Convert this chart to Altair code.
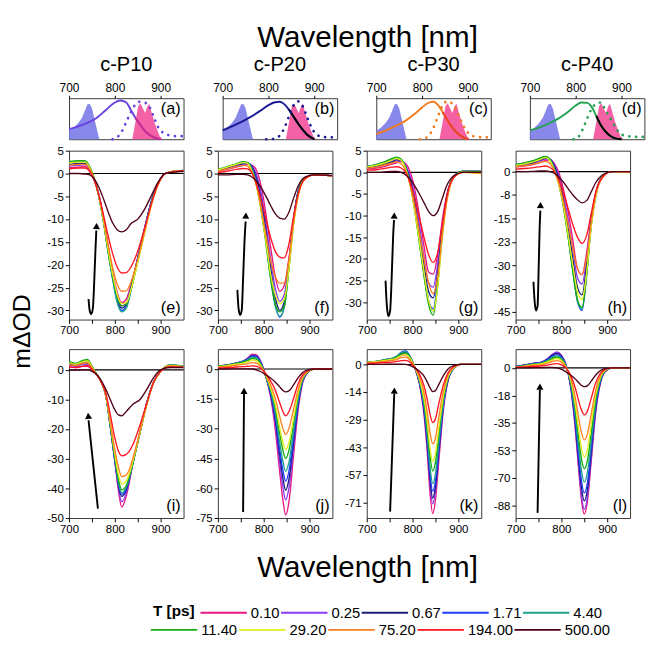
import altair as alt
import pandas as pd

FONT = "Liberation Sans"
W, H_TOP, H = 120, 43, 177

T_EARLY = ["0.10", "0.25", "0.67", "1.71", "4.40"]
T_LATE = ["11.40", "29.20", "75.20", "194.00", "500.00"]
T_ALL = T_EARLY + T_LATE
C_EARLY = ["#e8177f", "#8a3cf0", "#1b1b7a", "#1f3cff", "#1fa38c"]
C_LATE = ["#14aa14", "#e4ee1e", "#ff7f1f", "#ff1420", "#4d0016"]

BLUE_FILL_WL = [700, 710, 720, 728, 735, 740, 745, 750, 755, 760, 766]
BLUE_FILL = [0.22, 0.3, 0.42, 0.55, 0.75, 0.9, 0.92, 0.8, 0.55, 0.3, 0.0]
PINK_FILL_WL = [838, 845, 851, 856, 861, 866, 871, 875, 880, 886, 892, 898, 904]
PINK_FILL = [0.0, 0.45, 0.85, 0.93, 0.8, 0.68, 0.85, 0.92, 0.7, 0.45, 0.25, 0.08, 0.0]

ABS_WL = [700, 720, 740, 760, 780, 800, 812, 825, 835, 845, 855, 865, 875, 885, 900]
ABS_A = [0.26, 0.33, 0.42, 0.55, 0.75, 0.95, 1.0, 0.95, 0.75, 0.55, 0.38, 0.22, 0.12, 0.05, 0.0]
ABS_B = [0.23, 0.33, 0.44, 0.57, 0.72, 0.88, 0.95, 0.97, 0.9, 0.76, 0.58, 0.4, 0.24, 0.11, 0.0]
ABS_C = [0.14, 0.22, 0.33, 0.45, 0.62, 0.82, 0.93, 0.97, 0.88, 0.7, 0.5, 0.32, 0.18, 0.08, 0.0]
ABS_D = [0.23, 0.3, 0.4, 0.52, 0.68, 0.87, 0.95, 0.94, 0.83, 0.6, 0.36, 0.2, 0.09, 0.03, 0.0]

EMI_WL = [795, 805, 815, 825, 835, 845, 855, 865, 875, 885, 895, 905, 920, 935, 950]
EMI_A = [0.0, 0.05, 0.2, 0.45, 0.7, 0.9, 0.97, 0.95, 0.85, 0.58, 0.3, 0.17, 0.1, 0.08, 0.08]
EMI_B = [0.0, 0.0, 0.03, 0.1, 0.3, 0.6, 0.88, 0.98, 0.85, 0.55, 0.28, 0.12, 0.06, 0.05, 0.05]
EMI_C = [0.0, 0.02, 0.1, 0.3, 0.6, 0.88, 0.98, 0.93, 0.75, 0.48, 0.25, 0.12, 0.06, 0.05, 0.05]
EMI_D = [0.0, 0.05, 0.25, 0.54, 0.79, 0.92, 0.95, 0.75, 0.55, 0.35, 0.17, 0.1, 0.07, 0.06, 0.06]

TOP_TITLES = ["c-P10", "c-P20", "c-P30", "c-P40"]
TOP_COLORS = ["#6a3fe0", "#1a1a99", "#f27a1e", "#23a152"]
TAIL_COLORS = ["#d42a8c", "#000000", "#e8402a", "#000000"]

WL_E = [700, 720, 735, 745, 755, 765, 775, 785, 795, 805, 815, 825, 835, 850, 865, 880, 895, 910, 930, 950]
E = {
    "0.10": [1.2, 1.4, 1.5, 0.6, -1.5, -4.5, -9.5, -15.5, -21.5, -26, -28.3, -27.5, -24.5, -18.5, -12, -6, -2, 0, 0.5, 0.6],
    "0.25": [1.6, 1.8, 1.9, 0.9, -1.3, -4.5, -9.5, -16, -22, -27, -29, -28.5, -25, -18.5, -12, -6, -2, 0, 0.5, 0.6],
    "0.67": [2.0, 2.2, 2.2, 1.1, -1.2, -4.8, -10, -16.5, -22.5, -27.5, -29.5, -28.8, -25.2, -18.5, -12, -6, -2, 0, 0.5, 0.6],
    "1.71": [2.4, 2.6, 2.6, 1.3, -1.2, -5, -10.5, -17, -23, -28, -30, -29.2, -25.5, -18.5, -12, -6, -2, 0, 0.5, 0.7],
    "4.40": [2.5, 2.7, 2.7, 1.4, -1.2, -5, -10.5, -17, -23, -28.2, -30.3, -29.5, -25.8, -19, -12.3, -6.2, -2, 0, 0.5, 0.7],
    "11.40": [2.6, 2.8, 2.8, 1.5, -1.1, -5, -10.5, -17, -22.5, -27, -29, -28.7, -25.5, -19.3, -12.8, -6.5, -2.2, 0, 0.5, 0.7],
    "29.20": [2.3, 2.5, 2.5, 1.3, -1.2, -5, -10.3, -16.5, -22, -26.5, -28.5, -28.3, -25.5, -19.5, -13, -6.8, -2.3, 0, 0.5, 0.7],
    "75.20": [1.8, 2.0, 2.0, 1.0, -1.3, -4.8, -9.8, -15.5, -20.5, -24.2, -25.8, -25.7, -23.8, -18.8, -12.8, -6.8, -2.3, 0, 0.5, 0.6],
    "194.00": [1.0, 1.2, 1.2, 0.5, -1.5, -4.8, -9, -13.5, -17.5, -20.5, -21.8, -21.7, -20.5, -17, -12, -6.5, -2.2, 0, 0.4, 0.6],
    "500.00": [0, 0, -0.1, -0.3, -1.2, -3, -5.5, -8.3, -10.8, -12.3, -12.8, -12.3, -11, -10, -7.8, -4.8, -1.8, 0, 0.3, 0.5],
}

WL_F = [700, 720, 740, 755, 765, 775, 785, 795, 805, 815, 825, 835, 845, 855, 865, 875, 890, 910, 950]
F = {
    "0.10": [0.5, 0.9, 1.4, 1.8, 2.0, 1.8, 0.5, -3, -9, -16, -22.5, -25.8, -24.5, -18.5, -10, -4, -1, -0.3, -0.5],
    "0.25": [0.6, 1.0, 1.6, 2.0, 2.2, 1.6, -0.5, -4.5, -11, -18.5, -25, -28, -26.5, -19.5, -10.2, -4, -1, -0.3, -0.5],
    "0.67": [0.7, 1.2, 1.8, 2.2, 2.3, 1.3, -1.3, -6, -12.5, -20.5, -27, -30, -28, -20, -10.3, -4, -1, -0.3, -0.5],
    "1.71": [0.8, 1.3, 1.9, 2.3, 2.3, 1.0, -2, -7, -14, -22, -28.5, -31.5, -29, -20.3, -10.5, -4, -1, -0.3, -0.5],
    "4.40": [0.9, 1.4, 2.0, 2.4, 2.4, 0.8, -2.5, -8, -15, -23, -29, -31.3, -29.3, -20.5, -10.6, -4.1, -1, -0.3, -0.5],
    "11.40": [0.9, 1.5, 2.1, 2.6, 2.4, 0.5, -3, -8.5, -15.5, -23, -28.5, -30.3, -29, -21, -11, -4.5, -1, -0.3, -0.5],
    "29.20": [0.8, 1.4, 2.0, 2.4, 2.2, 0.3, -3, -8.5, -15, -22, -26.5, -28.5, -27.5, -21, -11.5, -5, -1.2, -0.3, -0.5],
    "75.20": [0.5, 1.0, 1.5, 1.8, 1.6, 0, -3, -8, -13.5, -19, -22.5, -24, -24, -19, -11, -5, -1.2, -0.3, -0.5],
    "194.00": [0.2, 0.5, 0.9, 1.1, 1.0, 0, -2.5, -6, -10, -14, -17, -18.3, -18.5, -15.5, -9.5, -4.5, -1.2, -0.3, -0.5],
    "500.00": [-0.3, -0.3, -0.2, -0.2, -0.3, -0.8, -1.8, -3.2, -5, -7, -8.8, -9.8, -10, -8.5, -5.5, -2.8, -0.8, -0.3, -0.4],
}

WL_G = [700, 720, 740, 755, 765, 775, 785, 795, 805, 815, 825, 835, 845, 855, 865, 875, 890, 910, 950]
G = {
    "0.10": [0.8, 1.0, 1.4, 1.9, 2.2, 2.5, 2.0, 0, -4, -10, -17, -23, -23.5, -19, -11, -5, -1, 0.2, 0.2],
    "0.25": [0.9, 1.2, 1.7, 2.2, 2.6, 2.6, 1.5, -1, -5.5, -12, -19.5, -25.5, -26.5, -21, -12, -5.5, -1, 0.2, 0.2],
    "0.67": [1.0, 1.4, 2.0, 2.5, 2.9, 2.7, 1.3, -1.8, -7, -14, -21.5, -27.5, -29, -23, -13, -5.5, -1, 0.2, 0.2],
    "1.71": [1.3, 1.7, 2.3, 2.9, 3.2, 2.9, 1.2, -2.5, -8, -15.5, -23, -29.5, -31.5, -25, -13.5, -6, -1, 0.2, 0.2],
    "4.40": [1.3, 1.8, 2.4, 3.0, 3.4, 3.0, 1.1, -2.8, -8.5, -16, -23.5, -30, -32, -25.5, -14, -6, -1, 0.2, 0.2],
    "11.40": [1.3, 1.8, 2.5, 3.2, 3.5, 3.0, 1.0, -3, -9, -16.5, -24, -30.5, -33, -26, -14, -6, -1, 0.2, 0.2],
    "29.20": [1.2, 1.6, 2.2, 2.8, 3.2, 2.8, 0.8, -3, -9, -16, -23, -29.5, -32, -26.5, -15, -6.5, -1.2, 0, -0.3],
    "75.20": [0.9, 1.2, 1.7, 2.1, 2.4, 2.0, 0.3, -3, -8, -14, -20, -25.5, -28, -24, -14.5, -6.5, -1.2, 0, -0.2],
    "194.00": [0.5, 0.6, 0.9, 1.2, 1.3, 1.0, 0, -2.5, -6, -10.5, -15, -19, -20.8, -18.5, -12, -5.5, -1.2, 0, 0],
    "500.00": [0, 0, 0.1, 0.2, 0.2, 0, -0.6, -1.6, -3.2, -5, -7, -9, -10, -9, -6, -3, -0.8, 0, 0],
}

WL_H = [700, 720, 740, 755, 765, 775, 785, 795, 805, 815, 825, 835, 845, 855, 865, 875, 890, 910, 950]
HH = {
    "0.10": [1.5, 1.8, 2.3, 3.0, 3.6, 3.8, 2.5, -0.5, -6, -13, -22, -31, -33, -26, -15, -7, -1.5, 0, 0],
    "0.25": [1.7, 2.1, 2.7, 3.4, 4.0, 3.9, 2.0, -1.5, -8, -15.5, -25, -34, -36, -28, -15.5, -7, -1.5, 0, 0],
    "0.67": [1.9, 2.4, 3.0, 3.8, 4.3, 4.0, 1.6, -2.5, -9.5, -18, -28, -37, -39.5, -30, -16, -7, -1.5, 0, 0],
    "1.71": [2.2, 2.7, 3.4, 4.2, 4.7, 4.0, 1.0, -3.5, -11, -20.5, -31.5, -41.5, -44.5, -33, -17, -7.5, -1.5, 0, 0],
    "4.40": [2.2, 2.8, 3.5, 4.3, 4.8, 4.0, 0.8, -4, -11.5, -21, -32, -41.5, -44, -33, -17, -7.5, -1.5, 0, 0],
    "11.40": [2.2, 2.8, 3.6, 4.5, 4.9, 3.8, 0.5, -4.5, -12, -21.5, -32, -41, -43.5, -33.5, -17.5, -8, -1.5, 0, 0],
    "29.20": [2.0, 2.5, 3.2, 4.0, 4.5, 3.5, 0.2, -4.5, -11.5, -20.5, -30, -38.5, -41, -32.5, -18, -8, -1.8, 0, -0.3],
    "75.20": [1.5, 1.9, 2.4, 3.0, 3.3, 2.6, 0, -4, -10, -17, -24.5, -31, -33, -27.5, -16.5, -7.5, -1.8, 0, -0.2],
    "194.00": [0.8, 1.0, 1.3, 1.6, 1.8, 1.3, 0, -2.8, -7, -12, -17, -21, -23, -20.5, -13.5, -6.5, -1.8, 0, 0],
    "500.00": [0, 0, 0.1, 0.2, 0.2, 0, -0.6, -1.8, -3.5, -5.5, -7.5, -9, -10, -9.3, -6.5, -3.5, -1, 0, 0],
}

WL_I = [700, 715, 730, 740, 750, 760, 770, 780, 790, 800, 808, 815, 825, 840, 855, 870, 885, 900, 920, 950]
I = {
    "0.10": [1.0, 0.8, 1.2, 1.2, 0.2, -1.5, -4, -8.5, -19, -31, -41, -46.3, -42.5, -31, -21, -11, -4, -0.5, 1.2, 1.0],
    "0.25": [1.5, 1.2, 1.8, 1.8, 0.5, -1.5, -4, -8.5, -19, -31, -40, -44.5, -41.5, -31, -21, -11, -4, -0.5, 1.3, 1.0],
    "0.67": [2.0, 1.6, 2.3, 2.3, 0.8, -1.5, -4, -8.5, -19, -30.5, -39, -42.7, -40.5, -31, -21, -11, -4, -0.5, 1.5, 1.1],
    "1.71": [2.5, 2.0, 2.8, 2.9, 1.0, -1.5, -4, -8.5, -19, -30.5, -38.5, -42, -40, -31, -21, -11, -4, -0.5, 1.7, 1.2],
    "4.40": [2.6, 2.1, 3.0, 3.1, 1.2, -1.3, -4, -8.5, -19, -30, -38, -41.5, -39.5, -31, -21, -11, -4, -0.5, 1.7, 1.2],
    "11.40": [2.8, 2.2, 3.2, 3.5, 1.3, -1.3, -4, -8.5, -18.5, -29.5, -37, -40.5, -39, -31, -21, -11.5, -4.2, -0.5, 1.6, 1.2],
    "29.20": [2.4, 1.9, 2.8, 3.0, 1.0, -1.5, -4, -8.5, -18, -28.5, -35.5, -38.5, -37.5, -30.5, -21, -11.5, -4.2, -0.5, 1.5, 1.1],
    "75.20": [1.8, 1.5, 2.2, 2.4, 0.7, -1.5, -4, -8.3, -17.5, -27, -33, -36, -35.5, -29.5, -20.5, -11.5, -4.2, -0.5, 1.3, 1.0],
    "194.00": [1.0, 0.8, 1.3, 1.4, 0.2, -1.7, -4, -7.8, -15, -23, -27.5, -29, -28.5, -25, -18.5, -11, -4, -0.5, 1.0, 0.9],
    "500.00": [0, -0.1, 0, 0, -0.5, -1.5, -3.5, -6.5, -10, -13.5, -15.2, -15.5, -14, -11.5, -10, -6.5, -2.5, 0, 0.8, 0.8],
}

WL_J = [700, 720, 740, 755, 765, 775, 785, 795, 805, 815, 825, 835, 842, 848, 855, 865, 875, 885, 895, 910, 950]
J = {
    "0.10": [1.5, 2.0, 3.0, 4.0, 5.5, 7.5, 7.0, 3.0, -4, -14, -30, -52, -66, -73.5, -67, -44, -21, -7, -2, 0, 0],
    "0.25": [1.5, 2.0, 3.0, 4.0, 5.3, 7.0, 6.5, 2.8, -4, -13, -27, -47, -59.5, -66, -60, -40, -19, -6.5, -2, 0, 0],
    "0.67": [1.5, 2.0, 3.0, 3.9, 5.0, 6.7, 6.2, 2.5, -4, -12.5, -25, -43.5, -55, -61, -55.5, -37, -18, -6, -2, 0, 0],
    "1.71": [1.6, 2.1, 3.0, 3.9, 5.0, 6.5, 6.0, 2.3, -4, -12, -23.5, -40.5, -51, -56.5, -51.5, -34.5, -17, -6, -2, 0, 0],
    "4.40": [1.5, 2.0, 2.9, 3.7, 4.6, 6.0, 5.5, 2.0, -4, -11, -21.5, -37, -46.5, -51.5, -47, -31.5, -15.5, -5.5, -1.8, 0, 0],
    "11.40": [1.4, 1.9, 2.7, 3.4, 4.2, 5.3, 4.8, 1.6, -3.8, -10, -19, -32.5, -41, -45, -41, -27.5, -13.5, -5, -1.6, 0, 0],
    "29.20": [1.2, 1.7, 2.4, 3.0, 3.6, 4.5, 4.0, 1.2, -3.5, -9.5, -17.5, -29.5, -37, -40.5, -37, -25, -12.5, -4.5, -1.5, 0, 0],
    "75.20": [1.0, 1.3, 1.9, 2.3, 2.7, 3.2, 2.8, 0.6, -3.2, -8, -14.5, -24, -30, -33, -30, -20.5, -10.5, -4, -1.3, 0, 0],
    "194.00": [0.5, 0.7, 1.0, 1.2, 1.4, 1.6, 1.3, 0, -2.5, -6, -10.5, -17, -21.5, -23.5, -21.5, -15, -7.5, -3, -1, 0, 0],
    "500.00": [0, 0, 0.1, 0.1, 0.1, 0, -0.5, -1.5, -3, -4.5, -6.5, -9, -10.8, -11.5, -11, -8, -4.5, -1.8, -0.6, 0, 0],
}

WL_K = [700, 720, 740, 755, 765, 775, 785, 795, 805, 815, 825, 832, 838, 844, 850, 858, 868, 878, 890, 905, 950]
K = {
    "0.10": [0.8, 1.2, 2.0, 2.5, 3.2, 4.5, 5.0, 3.0, -2, -10, -26, -45, -66, -77, -70, -48, -22, -8, -2, 0, 0],
    "0.25": [0.9, 1.3, 2.1, 2.6, 3.4, 5.0, 5.5, 3.3, -1.8, -9.5, -24, -42, -61.5, -72, -65.5, -45, -21, -7.5, -2, 0, 0],
    "0.67": [1.0, 1.4, 2.2, 2.8, 3.7, 5.6, 6.2, 3.5, -1.8, -9.5, -23.5, -40.5, -59, -69, -63, -43, -20, -7.5, -2, 0, 0],
    "1.71": [1.2, 1.6, 2.5, 3.1, 4.2, 6.3, 7.0, 4.0, -1.5, -9, -22.5, -38.5, -56, -65.5, -60, -41, -19.5, -7, -2, 0, 0],
    "4.40": [1.2, 1.6, 2.5, 3.1, 4.1, 6.0, 6.6, 3.8, -1.5, -8.5, -21, -36, -52.5, -61.5, -56.5, -38.5, -18.5, -6.8, -2, 0, 0],
    "11.40": [1.1, 1.5, 2.3, 2.9, 3.8, 5.5, 6.0, 3.5, -1.5, -8, -19, -32.5, -47, -55, -50.5, -34.5, -16.5, -6.3, -1.8, 0, 0],
    "29.20": [1.0, 1.4, 2.1, 2.6, 3.3, 4.6, 5.0, 3.0, -1.5, -7.5, -17.5, -29.5, -43, -50, -46, -31.5, -15.5, -6, -1.8, 0, 0],
    "75.20": [0.8, 1.1, 1.6, 2.0, 2.5, 3.5, 3.8, 2.2, -1.5, -6.5, -14.5, -24.5, -35, -41, -38, -26, -13, -5, -1.5, 0, 0],
    "194.00": [0.5, 0.7, 1.0, 1.2, 1.5, 2.0, 2.1, 1.0, -1.5, -5, -11, -18, -25.5, -30, -28, -19.5, -10, -4, -1.2, 0, 0],
    "500.00": [0, 0, 0.1, 0.2, 0.2, 0.2, 0, -0.6, -1.8, -3.5, -6, -9, -12, -14, -13.5, -10, -5.5, -2.2, -0.6, 0, 0],
}

WL_L = [700, 720, 740, 755, 770, 780, 790, 800, 810, 820, 830, 838, 844, 850, 857, 865, 875, 885, 895, 910, 950]
L = {
    "0.10": [1.0, 1.8, 3.0, 3.5, 6.0, 8.5, 10.0, 8.0, 2.0, -12, -38, -66, -85, -93.5, -85, -60, -28, -10, -2.5, 0, 0],
    "0.25": [1.0, 1.8, 3.0, 3.5, 6.0, 8.5, 10.0, 8.0, 2.0, -11.5, -36.5, -64, -82, -90.5, -82, -58, -27, -9.5, -2.5, 0, 0],
    "0.67": [1.0, 1.7, 2.9, 3.4, 5.7, 8.0, 9.3, 7.5, 1.8, -11, -34.5, -60, -77, -85, -77.5, -54.5, -25.5, -9, -2.3, 0, 0],
    "1.71": [1.0, 1.7, 2.8, 3.3, 5.3, 7.3, 8.5, 6.8, 1.5, -10.5, -32.5, -56.5, -72.5, -80, -73, -51.5, -24, -8.5, -2.2, 0, 0],
    "4.40": [0.9, 1.5, 2.6, 3.1, 4.8, 6.7, 7.7, 6.2, 1.3, -9.5, -29.5, -51.5, -66, -73, -66.5, -47, -22, -8, -2, 0, 0],
    "11.40": [0.8, 1.4, 2.4, 2.8, 4.3, 5.9, 6.8, 5.4, 1.0, -8.5, -26, -45.5, -58.5, -64.5, -59, -41.5, -19.5, -7, -1.8, 0, 0],
    "29.20": [0.7, 1.2, 2.1, 2.5, 3.8, 5.2, 6.0, 4.8, 0.8, -7.5, -23, -40, -51.5, -57, -52, -36.5, -17, -6.2, -1.6, 0, 0],
    "75.20": [0.6, 1.0, 1.7, 2.0, 3.0, 4.1, 4.7, 3.7, 0.4, -6, -18.5, -32.5, -41.5, -46, -42, -29.5, -14, -5, -1.3, 0, 0],
    "194.00": [0.4, 0.6, 1.0, 1.2, 1.8, 2.4, 2.7, 2.0, 0, -4.5, -12.5, -21.5, -27, -30, -27.5, -19.5, -9.5, -3.5, -1, 0, 0],
    "500.00": [0, 0, 0.2, 0.2, 0.3, 0.3, 0, -1, -2.5, -4.5, -7, -9.5, -11.2, -12, -11.3, -8.5, -4.5, -1.8, -0.5, 0, 0],
}

YDOM = {"e": [-32, 5], "f": [-32, 5], "g": [-34, 5], "h": [-47.4, 6.7],
        "i": [-50, 7], "j": [-75, 10], "k": [-79.3, 7.9], "l": [-96, 12]}
YTICKS = {
    "e": [5, 0, -5, -10, -15, -20, -25, -30],
    "f": [5, 0, -5, -10, -15, -20, -25, -30],
    "g": [5, 0, -5, -10, -15, -20, -25, -30],
    "h": [0, -7.5, -15, -22.5, -30, -37.5, -45],
    "i": [0, -10, -20, -30, -40, -50],
    "j": [0, -15, -30, -45, -60, -75],
    "k": [0, -14.29, -28.57, -42.86, -57.14, -71.43],
    "l": [0, -17.6, -35.2, -52.8, -70.4, -88],
}

ARROW_X = {"e": [742.5, 745, 748.5, 752, 755, 757.5, 759.5], "f": [742.5, 745, 748.5, 752, 755, 758, 760.5],
           "g": [741, 744, 747.5, 751, 754.5, 757.5, 759.5], "h": [739, 741.5, 744.5, 748, 750.5, 752.5, 754],
           "i": [742.5, 763], "j": [755, 757], "k": [751, 760], "l": [748, 753]}
ARROW_Y = {"e": [-27.5, -30, -30.8, -29.5, -23.5, -17, -12.5], "f": [-25.5, -29.5, -31, -30, -23, -15, -10.5],
           "g": [-25, -31, -33.2, -32, -24, -15, -11], "h": [-35.3, -41.5, -44.5, -43, -30, -18, -12.5],
           "i": [-17, -46.8], "j": [-72, -12.5], "k": [-76, -15], "l": [-92.7, -14]}
HEAD = {"e": (760, -11.5), "f": (761, -9.2), "g": (760, -10), "h": (754.3, -10.7),
        "i": (742, -15.5), "j": (757, -11), "k": (760.2, -13.5), "l": (753.1, -12)}
HEAD_ANGLE = {"e": 2, "f": 3, "g": 2, "h": 2, "i": 354, "j": 1, "k": 2, "l": 1}

XSCALE = alt.Scale(domain=[700, 950], nice=False, zero=False)

LEG_COMMON = dict(orient="none", direction="horizontal", columns=5, labelFont=FONT,
                  labelFontSize=15.5, labelColor="black", symbolType="M-2.7,0H2.7", symbolSize=324,
                  symbolStrokeWidth=2, labelOffset=18.5, columnPadding=-3.5, padding=0)
LEG1 = alt.Legend(title="T [ps]", legendX=88, legendY=529, titleOrient="left", titleFontSize=16,
                  titleFontWeight="bold", titleColor="black", titleFont=FONT, titlePadding=20,
                  **LEG_COMMON)
LEG2 = alt.Legend(title=None, legendX=100, legendY=547, **LEG_COMMON)

XAXIS_MAIN = alt.Axis(values=[700, 750, 800, 850, 900],
                      labelExpr="datum.value % 100 == 0 ? '' + datum.value : ''",
                      tickSize=4, labelFontSize=12, labelPadding=2, minExtent=30, maxExtent=30,
                      title=None, grid=False, domain=False, labelFlush=False, labelOverlap=False)
XAXIS_TOP = alt.Axis(orient="top", values=[700, 800, 900], tickSize=3, labelFontSize=12.5,
                     labelPadding=1, title=None, grid=False, domain=False, labelFlush=False,
                     labelOverlap=False)
YAXIS_TOP = alt.Axis(labels=False, ticks=False, domain=False, grid=False, title=None,
                     minExtent=31, maxExtent=31)


def yaxis_main(ticks):
    return alt.Axis(values=ticks, labelExpr="'' + (-round(-datum.value))", tickSize=4,
                    labelFontSize=12, labelPadding=2, minExtent=31, maxExtent=31, title=None,
                    grid=False, domain=False, labelFlush=False, labelOverlap=False)


def main_panel(key, wl, curves):
    recs = []
    for t in T_ALL:
        for w, v in zip(wl, curves[t]):
            recs.append({"wl": w, "v": v, "T": t})
    df = pd.DataFrame(recs)
    ys = alt.Scale(domain=YDOM[key], nice=False, zero=False)
    X = alt.X("wl:Q", scale=XSCALE, axis=XAXIS_MAIN)
    Y = alt.Y("v:Q", scale=ys, axis=yaxis_main(YTICKS[key]))
    zero = alt.Chart(pd.DataFrame({"v": [0]})).mark_rule(color="black", strokeWidth=1.2).encode(y=Y)
    early = alt.Chart(df).transform_filter(
        alt.FieldOneOfPredicate(field="T", oneOf=T_EARLY)
    ).mark_line(strokeWidth=1.4, interpolate="monotone", clip=True).encode(
        x=X, y=Y,
        color=alt.Color("T:N", scale=alt.Scale(domain=T_EARLY, range=C_EARLY), legend=LEG1),
    )
    late = alt.Chart(df).transform_filter(
        alt.FieldOneOfPredicate(field="T", oneOf=T_LATE)
    ).mark_line(strokeWidth=1.4, interpolate="monotone", clip=True).encode(
        x=X, y=Y,
        stroke=alt.Stroke("T:N", scale=alt.Scale(domain=T_LATE, range=C_LATE), legend=LEG2),
    )
    arrow = alt.Chart(pd.DataFrame({"wl": ARROW_X[key], "v": ARROW_Y[key]})).mark_line(
        color="black", strokeWidth=2, interpolate="monotone").encode(x=X, y=Y)
    head = alt.Chart(pd.DataFrame({"wl": [HEAD[key][0]], "v": [HEAD[key][1]]})).mark_point(
        shape="triangle-up", filled=True, color="black", size=55, opacity=1,
        angle=HEAD_ANGLE[key]).encode(x=X, y=Y)
    lab = alt.Chart(pd.DataFrame({"t": ["(" + key + ")"]})).mark_text(
        align="right", baseline="bottom", fontSize=17, font=FONT, color="black"
    ).encode(text="t:N", x=alt.value(W - 3), y=alt.value(H - 3))
    return alt.layer(zero, early, late, arrow, head, lab).properties(width=W, height=H)


def top_panel(idx, abs_v, emi_v):
    color = TOP_COLORS[idx]
    ys = alt.Scale(domain=[0, 1.06], nice=False, zero=False)
    X = alt.X("wl:Q", scale=XSCALE, axis=XAXIS_TOP)
    Y = alt.Y("v:Q", scale=ys, axis=YAXIS_TOP)
    blue = alt.Chart(pd.DataFrame({"wl": BLUE_FILL_WL, "v": BLUE_FILL})).mark_area(
        color="#7b7be8", opacity=0.9).encode(x=X, y=Y)
    pink = alt.Chart(pd.DataFrame({"wl": PINK_FILL_WL, "v": PINK_FILL})).mark_area(
        color="#f3509a", opacity=0.9).encode(x=X, y=Y)
    abs_df = pd.DataFrame({"wl": ABS_WL, "v": abs_v})
    ab = alt.Chart(abs_df).mark_line(
        color=color, strokeWidth=2, interpolate="monotone").encode(x=X, y=Y)
    tail = alt.Chart(abs_df).transform_filter(alt.datum.wl >= 845).mark_line(
        color=TAIL_COLORS[idx], strokeWidth=2, interpolate="monotone").encode(x=X, y=Y)
    em = alt.Chart(pd.DataFrame({"wl": EMI_WL, "v": emi_v})).mark_line(
        color=color, strokeWidth=2.8, strokeDash=[0.1, 7], strokeCap="round",
        interpolate="monotone").encode(x=X, y=Y)
    lab = alt.Chart(pd.DataFrame({"t": ["(" + "abcd"[idx] + ")"]})).mark_text(
        align="right", baseline="top", fontSize=17, font=FONT, color="black"
    ).encode(text="t:N", x=alt.value(W - 3), y=alt.value(4))
    return alt.layer(blue, pink, ab, tail, em, lab).properties(
        width=W, height=H_TOP,
        title=alt.TitleParams(TOP_TITLES[idx], fontSize=21, font=FONT, fontWeight="normal", offset=8),
    )


top_row = alt.hconcat(
    top_panel(0, ABS_A, EMI_A), top_panel(1, ABS_B, EMI_B),
    top_panel(2, ABS_C, EMI_C), top_panel(3, ABS_D, EMI_D), spacing=2)
mid_row = alt.hconcat(main_panel("e", WL_E, E), main_panel("f", WL_F, F),
                      main_panel("g", WL_G, G), main_panel("h", WL_H, HH), spacing=2)
bot_row = alt.hconcat(main_panel("i", WL_I, I), main_panel("j", WL_J, J),
                      main_panel("k", WL_K, K), main_panel("l", WL_L, L), spacing=2)

rows = alt.vconcat(top_row, mid_row, bot_row, spacing=-2)
wrap_bottom = alt.vconcat(rows, title=alt.TitleParams(
    "Wavelength [nm]", orient="bottom", fontSize=31, font=FONT, fontWeight="normal",
    anchor="middle", offset=7, dx=24))
wrap_left = alt.vconcat(wrap_bottom, title=alt.TitleParams(
    "mΔOD", orient="left", fontSize=26, font=FONT, fontWeight="normal", anchor="middle",
    offset=4, dx=-14))
wrap_top = alt.vconcat(wrap_left, title=alt.TitleParams(
    "Wavelength [nm]", orient="top", fontSize=31, font=FONT, fontWeight="normal",
    anchor="middle", offset=0, dx=39))

chart = alt.vconcat(wrap_top).properties(
    padding={"left": 2, "top": 0, "right": 2, "bottom": 2}
).configure_view(stroke="#333", strokeWidth=1).configure_axis(
    labelFont=FONT, labelColor="black", tickColor="black"
).configure_title(font=FONT, color="black")

chart.save("out.html", embed_options={"renderer": "svg", "actions": False})
